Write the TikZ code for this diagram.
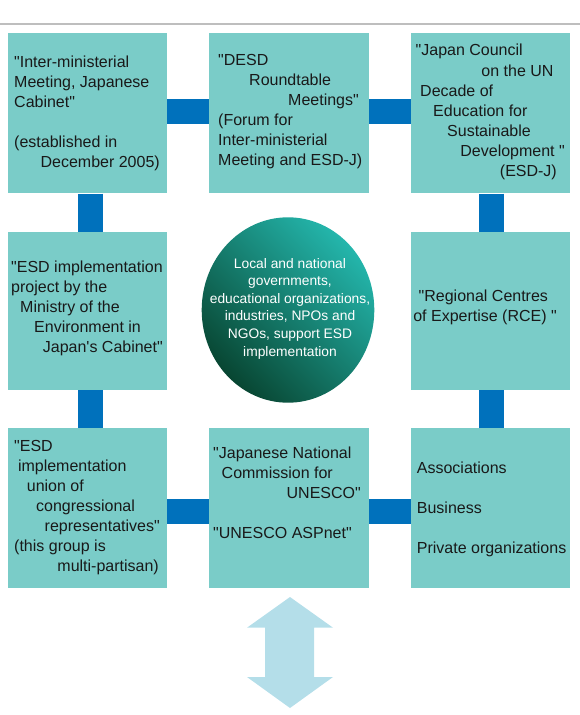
\documentclass[tikz,border=0pt]{standalone}
\usepackage{fontspec}
\setmainfont{Liberation Sans}[Ligatures=TeXOff]
\usetikzlibrary{shapes.geometric}
\definecolor{boxfill}{RGB}{122,204,200}
\definecolor{barblue}{RGB}{0,113,188}
\definecolor{rulegray}{RGB}{190,190,190}
\definecolor{hubdark}{RGB}{8,70,50}
\definecolor{hublight}{RGB}{36,182,172}
\definecolor{arrowblue}{RGB}{180,222,233}
\definecolor{txtcol}{RGB}{25,25,25}
\newcommand\mytl[4]{\node[tl] (#1) at (#2,#3) {#4};}
\newcommand\mytr[4]{\node[tr] (#1) at (#2,#3) {#4};}
\begin{document}
\begin{tikzpicture}[x=1pt,y=-1pt,
  box/.style={rectangle,fill=boxfill,draw=none,inner sep=0pt},
  hbar/.style={draw=barblue,line width=25pt},
  vbar/.style={draw=barblue,line width=25.5pt},
  tl/.style={anchor=base west,inner sep=0pt,text=txtcol,font=\fontsize{16}{20}\selectfont},
  tr/.style={anchor=base east,inner sep=0pt,text=txtcol,font=\fontsize{16}{20}\selectfont},
  hubtext/.style={align=center,text=white,inner sep=0pt,font=\fontsize{13.8}{17.6}\selectfont},
  ]
\useasboundingbox (0,0) rectangle (580,715);
\draw[rulegray,line width=1.3pt] (0,24) -- (580,24);

% boxes
\node[box,minimum width=159pt,minimum height=160pt] (b11) at (87.5,113.3) {};
\node[box,minimum width=160pt,minimum height=160pt] (b12) at (289,113.3) {};
\node[box,minimum width=159pt,minimum height=160pt] (b13) at (490.5,113.3) {};
\node[box,minimum width=159pt,minimum height=158.3pt] (b21) at (87.5,310.85) {};
\node[box,minimum width=159pt,minimum height=158.3pt] (b23) at (490.5,310.85) {};
\node[box,minimum width=159pt,minimum height=159.4pt] (b31) at (87.5,508) {};
\node[box,minimum width=160pt,minimum height=159.4pt] (b32) at (289,508) {};
\node[box,minimum width=159pt,minimum height=159.4pt] (b33) at (490.5,508) {};

% connectors
\draw[hbar] ([yshift=1.5pt]b11.east) -- ([yshift=1.5pt]b12.west);
\draw[hbar] ([yshift=1.5pt]b12.east) -- ([yshift=1.5pt]b13.west);
\draw[hbar] ([yshift=-3.7pt]b31.east) -- ([yshift=-3.7pt]b32.west);
\draw[hbar] ([yshift=-3.7pt]b32.east) -- ([yshift=-3.7pt]b33.west);
\draw[vbar] ([xshift=3pt]b11.south) -- ([xshift=3pt]b21.north);
\draw[vbar] ([xshift=3pt]b21.south) -- ([xshift=3pt]b31.north);
\draw[vbar] ([xshift=0.8pt]b13.south) -- ([xshift=0.8pt]b23.north);
\draw[vbar] ([xshift=0.8pt]b23.south) -- ([xshift=0.8pt]b33.north);

% central ellipse
\node[ellipse,inner sep=0pt,minimum width=172.6pt,minimum height=185.4pt,
  left color=hublight,right color=hubdark,shading angle=-45] (hub) at (288,310) {};
\node[hubtext] (hubt) at (290,308.5) {Local and national\\governments,\\educational organizations,\\industries, NPOs and\\NGOs, support ESD\\implementation};

% row 1 left
\mytl{a1}{14}{67.5}{"Inter-ministerial}
\mytl{a2}{14}{87.5}{Meeting, Japanese}
\mytl{a3}{14}{107.5}{Cabinet"}
\mytl{a4}{14}{147.5}{(established in}
\mytr{a5}{160}{167.5}{December 2005)}
% row 1 middle
\mytl{b1}{218}{65}{"DESD}
\mytl{b2}{249}{85}{Roundtable}
\mytr{b3}{359}{105}{Meetings"}
\mytl{b4}{218}{125}{(Forum for}
\mytl{b5}{218}{145}{Inter-ministerial}
\mytl{b6}{218}{165}{Meeting and ESD-J)}
% row 1 right
\mytl{c1}{415.5}{55.5}{"Japan Council}
\mytr{c2}{553.7}{76}{on the UN}
\mytl{c3}{420}{96}{Decade of}
\mytl{c4}{433}{116}{Education for}
\mytl{c5}{447}{136}{Sustainable}
\mytr{c6}{565}{156}{Development "}
\mytr{c7}{557}{176}{(ESD-J)}
% row 2 left
\mytl{d1}{11}{272}{"ESD implementation}
\mytl{d2}{11}{292}{project by the}
\mytl{d3}{20}{312}{Ministry of the}
\mytl{d4}{34}{332}{Environment in}
\mytr{d5}{163}{352}{Japan's Cabinet"}
% row 2 right
\mytl{e1}{418.5}{301.5}{"Regional Centres}
\mytr{e2}{557}{321.5}{of Expertise (RCE) "}
% row 3 left
\mytl{f1}{14}{451.5}{"ESD}
\mytl{f2}{17.8}{471.5}{implementation}
\mytl{f3}{26.7}{491.5}{union of}
\mytl{f4}{36}{511.5}{congressional}
\mytr{f5}{160}{531.5}{representatives"}
\mytl{f6}{14}{551.5}{(this group is}
\mytr{f7}{159}{571.5}{multi-partisan)}
% row 3 middle
\mytl{g1}{213}{458}{"Japanese National}
\mytl{g2}{221.5}{478}{Commission for}
\mytr{g3}{361}{498}{UNESCO"}
\mytl{g4}{213}{538}{"UNESCO ASPnet"}
% row 3 right
\mytl{h1}{416.7}{473.5}{Associations}
\mytl{h2}{416.7}{513.5}{Business}
\mytl{h3}{416.7}{553.5}{Private organizations}

% double arrow
\fill[arrowblue] (290,597) -- (333,627.7) -- (314,627.7) -- (314,677) -- (333,677)
  -- (290,708) -- (247,677) -- (265,677) -- (265,627.7) -- (247,627.7) -- cycle;
\end{tikzpicture}
\end{document}
